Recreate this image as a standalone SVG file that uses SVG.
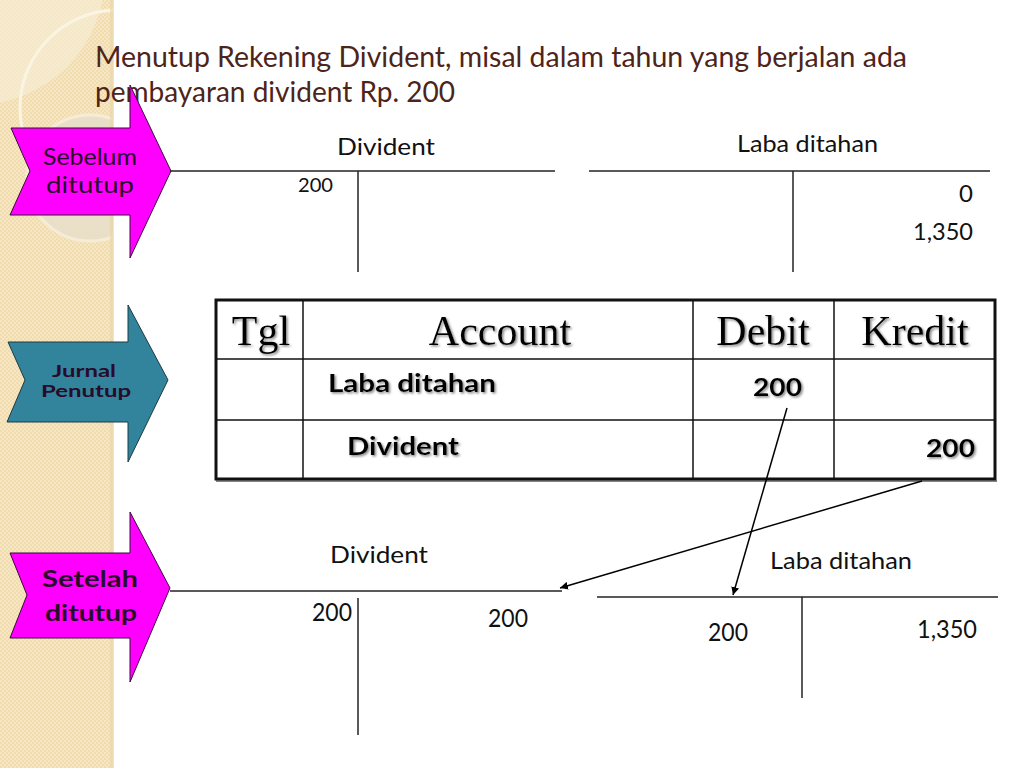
<svg xmlns="http://www.w3.org/2000/svg" width="1024" height="768" viewBox="0 0 1024 768">
<defs>
<pattern id="tex" width="4" height="4" patternUnits="userSpaceOnUse">
<rect width="4" height="4" fill="#f1dcae"/>
<rect width="2" height="2" fill="#f6e6c4"/>
<rect x="2" y="2" width="2" height="2" fill="#f6e6c4"/>
</pattern>
<clipPath id="strip"><rect x="0" y="0" width="113" height="768"/></clipPath>
<marker id="ah" viewBox="0 0 10 10" refX="10" refY="5" markerWidth="8" markerHeight="8" markerUnits="userSpaceOnUse" orient="auto">
<path d="M0,0 L10,5 L0,10 z" fill="#000"/>
</marker>
<filter id="sh" x="-10%" y="-20%" width="130%" height="150%">
<feDropShadow dx="1.5" dy="1.5" stdDeviation="0.8" flood-color="#7a7a7a" flood-opacity="0.9"/>
</filter>
</defs>
<style>
.title{font-family:Lato,"Open Sans","Liberation Sans",sans-serif;font-size:28px;fill:#4f2418}
.acc{font-family:Lato,"Open Sans","Liberation Sans",sans-serif;fill:#111}
.hdr{font-family:"Liberation Serif","Times New Roman",serif;font-size:42px;fill:#000}
.row{font-family:Lato,"Open Sans","Liberation Sans",sans-serif;font-weight:bold;font-size:25px;fill:#000}
.tl{stroke:#222;stroke-width:1.5;fill:none}
.arrM{fill:#ff00ff;stroke:#3a0a3a;stroke-width:1}
.arrT{fill:#31849b;stroke:#1f3a44;stroke-width:1}
.lbl{font-family:Lato,"Open Sans","Liberation Sans",sans-serif;fill:#2a0a2a;text-anchor:middle}
.conn{stroke:#000;stroke-width:1.5;fill:none;marker-end:url(#ah)}
</style>
<rect width="1024" height="768" fill="#ffffff"/>
<g id="background">
<rect x="0" y="0" width="113" height="768" fill="url(#tex)"/>
<g clip-path="url(#strip)">
<circle cx="-25" cy="-25" r="130" fill="#f7ecd3" opacity="0.7"/>
<circle cx="118" cy="108" r="98" fill="none" stroke="#fbf4e3" stroke-width="3"/>
<circle cx="90" cy="178" r="63" fill="#e9dfc9" stroke="#f6eedc" stroke-width="3" opacity="0.9"/>
</g>
<rect x="110" y="0" width="4" height="768" fill="#e6d3a8" opacity="0.6"/>
</g>
<g id="title">
<text class="title" x="95" y="67" textLength="812" lengthAdjust="spacingAndGlyphs">Menutup Rekening Divident, misal dalam tahun yang berjalan ada</text>
<text class="title" x="95" y="102" textLength="360" lengthAdjust="spacingAndGlyphs">pembayaran divident Rp. 200</text>
</g>
<g id="arrow-sebelum">
<path class="arrM" d="M11,128 L130,128 L130,85 L171,171 L130,258 L130,215 L10,215 L30,171 Z"/>
<text class="lbl" x="90" y="165" font-size="23" textLength="94" lengthAdjust="spacingAndGlyphs">Sebelum</text>
<text class="lbl" x="90" y="193" font-size="23" textLength="88" lengthAdjust="spacingAndGlyphs">ditutup</text>
</g>
<g id="arrow-jurnal">
<path class="arrT" d="M8,342 L128,342 L128,305 L168,380 L128,462 L128,422 L7,422 L25,380 Z"/>
<text class="lbl" x="84" y="377" font-size="17" font-weight="bold" textLength="64" lengthAdjust="spacingAndGlyphs" fill="#111">Jurnal</text>
<text class="lbl" x="86" y="397" font-size="17" font-weight="bold" textLength="90" lengthAdjust="spacingAndGlyphs" fill="#111">Penutup</text>
</g>
<g id="arrow-setelah">
<path class="arrM" d="M10,553 L130,553 L130,512 L170,588 L130,682 L130,638 L10,638 L27,595 Z"/>
<text class="lbl" x="90" y="587" font-size="23" font-weight="bold" textLength="96" lengthAdjust="spacingAndGlyphs" fill="#111">Setelah</text>
<text class="lbl" x="91" y="621" font-size="23" font-weight="bold" textLength="92" lengthAdjust="spacingAndGlyphs" fill="#111">ditutup</text>
</g>
<g id="t-divident-before">
<line class="tl" x1="170" y1="171" x2="555" y2="171"/>
<line class="tl" x1="358" y1="171" x2="358" y2="272"/>
<text class="acc" x="337" y="155" font-size="24" textLength="98" lengthAdjust="spacingAndGlyphs">Divident</text>
<text class="acc" x="298" y="192" font-size="19" textLength="35" lengthAdjust="spacingAndGlyphs">200</text>
</g>
<g id="t-laba-before">
<line class="tl" x1="589" y1="171" x2="990" y2="171"/>
<line class="tl" x1="793" y1="171" x2="793" y2="272"/>
<text class="acc" x="737" y="152" font-size="24" textLength="141" lengthAdjust="spacingAndGlyphs">Laba ditahan</text>
<text class="acc" x="973" y="202" font-size="24" text-anchor="end">0</text>
<text class="acc" x="913" y="240" font-size="24" textLength="60" lengthAdjust="spacingAndGlyphs">1,350</text>
</g>
<g id="journal-table">
<rect x="216" y="300" width="779" height="179" fill="#fff" stroke="#111" stroke-width="3"/>
<line x1="216" y1="481" x2="997" y2="481" stroke="#333" stroke-width="2" opacity="0.6"/>
<g stroke="#111" stroke-width="1.5">
<line x1="303" y1="300" x2="303" y2="479"/>
<line x1="693" y1="300" x2="693" y2="479"/>
<line x1="834" y1="300" x2="834" y2="479"/>
<line x1="216" y1="359" x2="995" y2="359"/>
<line x1="216" y1="420" x2="995" y2="420"/>
</g>
<g filter="url(#sh)">
<text class="hdr" x="261" y="345" text-anchor="middle">Tgl</text>
<text class="hdr" x="500" y="345" text-anchor="middle">Account</text>
<text class="hdr" x="763" y="345" text-anchor="middle">Debit</text>
<text class="hdr" x="915" y="345" text-anchor="middle">Kredit</text>
<text class="row" x="328" y="392" textLength="168" lengthAdjust="spacingAndGlyphs">Laba ditahan</text>
<text class="row" x="753" y="396" textLength="49" lengthAdjust="spacingAndGlyphs">200</text>
<text class="row" x="347" y="455" textLength="112" lengthAdjust="spacingAndGlyphs">Divident</text>
<text class="row" x="926" y="457" textLength="49" lengthAdjust="spacingAndGlyphs">200</text>
</g>
</g>
<g id="t-divident-after">
<line class="tl" x1="170" y1="591" x2="562" y2="591"/>
<line class="tl" x1="358" y1="598" x2="358" y2="735"/>
<text class="acc" x="330" y="563" font-size="24" textLength="98" lengthAdjust="spacingAndGlyphs">Divident</text>
<text class="acc" x="312" y="621" font-size="25" textLength="40" lengthAdjust="spacingAndGlyphs">200</text>
<text class="acc" x="488" y="627" font-size="25" textLength="40" lengthAdjust="spacingAndGlyphs">200</text>
</g>
<g id="t-laba-after">
<line class="tl" x1="597" y1="597" x2="998" y2="597"/>
<line class="tl" x1="802" y1="597" x2="802" y2="698"/>
<text class="acc" x="770" y="569" font-size="24" textLength="142" lengthAdjust="spacingAndGlyphs">Laba ditahan</text>
<text class="acc" x="708" y="641" font-size="25" textLength="40" lengthAdjust="spacingAndGlyphs">200</text>
<text class="acc" x="917" y="638" font-size="25" textLength="60" lengthAdjust="spacingAndGlyphs">1,350</text>
</g>
<g id="connectors">
<line class="conn" x1="787" y1="408" x2="733" y2="595"/>
<line class="conn" x1="922" y1="481" x2="560" y2="588"/>
</g>
</svg>
